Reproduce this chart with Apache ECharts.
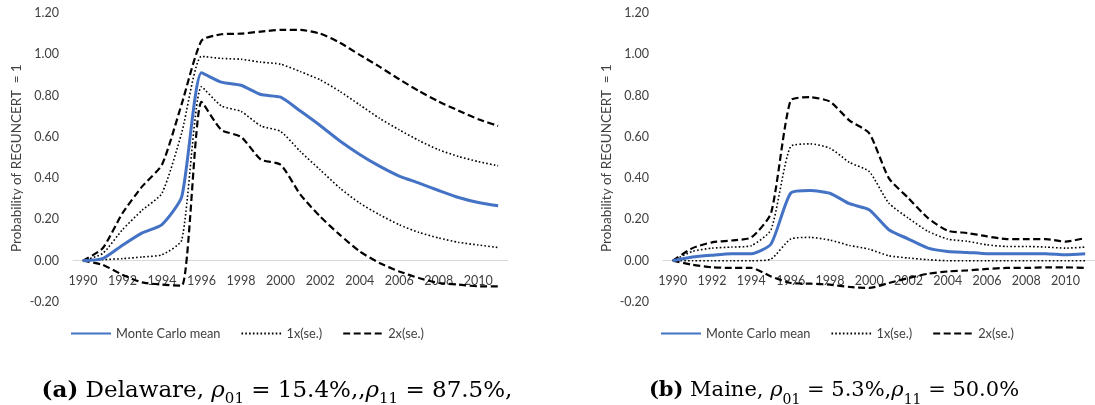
<!DOCTYPE html>
<html>
<head>
<meta charset="utf-8">
<script src="https://cdn.jsdelivr.net/npm/echarts@6/dist/echarts.min.js"></script>
<style>
html,body{margin:0;padding:0;background:#fff;}
#chart{width:1095px;height:405px;}
</style>
</head>
<body>
<div id="chart"></div>
<script>
// ---- data ----
const years = ['1990','1991','1992','1993','1994','1995','1996','1997','1998','1999','2000','2001','2002','2003','2004','2005','2006','2007','2008','2009','2010','2011'];
const yTicks = { min: -0.2, max: 1.2, interval: 0.2 };

// Delaware
const DE_mean = [0, 0.01, 0.075, 0.135, 0.175, 0.31, 0.91, 0.865, 0.85, 0.805, 0.792, 0.725, 0.655, 0.58, 0.515, 0.458, 0.41, 0.376, 0.34, 0.306, 0.282, 0.266];
const DE_up1  = [0, 0.035, 0.15, 0.245, 0.327, 0.62, 0.99, 0.98, 0.976, 0.962, 0.952, 0.916, 0.876, 0.82, 0.755, 0.69, 0.634, 0.582, 0.537, 0.505, 0.48, 0.46];
const DE_lo1  = [0, 0.005, 0.01, 0.018, 0.029, 0.10, 0.843, 0.75, 0.723, 0.653, 0.626, 0.529, 0.44, 0.352, 0.279, 0.223, 0.174, 0.137, 0.11, 0.089, 0.076, 0.064];
const DE_up2  = [0, 0.06, 0.23, 0.36, 0.465, 0.76, 1.066, 1.097, 1.10, 1.11, 1.118, 1.118, 1.10, 1.056, 0.997, 0.94, 0.879, 0.822, 0.771, 0.727, 0.685, 0.653];
const DE_lo2  = [0, -0.02, -0.068, -0.105, -0.116, -0.121, 0.77, 0.634, 0.60, 0.49, 0.465, 0.32, 0.214, 0.125, 0.045, -0.011, -0.052, -0.084, -0.108, -0.116, -0.124, -0.124];

// Maine
const ME_mean = [0, 0.018, 0.027, 0.034, 0.034, 0.081, 0.327, 0.34, 0.327, 0.276, 0.247, 0.15, 0.105, 0.061, 0.045, 0.04, 0.034, 0.034, 0.034, 0.034, 0.029, 0.034];
const ME_up1  = [0, 0.045, 0.061, 0.066, 0.073, 0.15, 0.553, 0.566, 0.545, 0.476, 0.432, 0.279, 0.206, 0.142, 0.105, 0.094, 0.077, 0.069, 0.069, 0.066, 0.061, 0.066];
const ME_lo1  = [0, 0, 0, 0, 0, 0.008, 0.105, 0.113, 0.10, 0.074, 0.056, 0.024, 0.013, 0.005, 0, 0, 0, 0, 0, 0, 0, 0];
const ME_up2  = [0, 0.061, 0.089, 0.098, 0.113, 0.23, 0.776, 0.792, 0.771, 0.679, 0.618, 0.40, 0.303, 0.206, 0.145, 0.134, 0.118, 0.105, 0.105, 0.105, 0.092, 0.11];
const ME_lo2  = [0, -0.02, -0.032, -0.035, -0.035, -0.076, -0.108, -0.111, -0.116, -0.127, -0.132, -0.108, -0.084, -0.063, -0.052, -0.047, -0.04, -0.035, -0.035, -0.032, -0.032, -0.035];

const legendNames = ['Monte Carlo mean', '1x(se.)', '2x(se.)'];
const yTitle = 'Probability of REGUNCERT  = 1';
const captionA = '{b|(a)} Delaware, {i|ρ}{s|01} = 15.4%,,{i|ρ}{s|11} = 87.5%,';
const captionB = '{b|(b)} Maine, {i|ρ}{s|01} = 5.3%,{i|ρ}{s|11} = 50.0%';

// ---- styling ----
const FONT = 'Lato';
const TXT = '#404040';
const BLUE = '#4472C4';
const SERIF = 'DejaVu Serif';

function xAx(gi) {
  return {
    type: 'category', gridIndex: gi, data: years, boundaryGap: true,
    axisLine: { onZero: true, lineStyle: { color: '#d9d9d9', width: 1 } },
    axisTick: { show: false },
    axisLabel: { interval: 1, color: TXT, fontFamily: FONT, fontSize: 12.5, margin: -28 }
  };
}
function yAx(gi) {
  return {
    type: 'value', gridIndex: gi, min: yTicks.min, max: yTicks.max, interval: yTicks.interval,
    axisLine: { show: false }, axisTick: { show: false }, splitLine: { show: false },
    axisLabel: { color: TXT, fontFamily: FONT, fontSize: 12.5, margin: 14,
      formatter: v => v.toFixed(2) }
  };
}
function ser(name, data, gi, kind) {
  const base = { name, type: 'line', data, xAxisIndex: gi, yAxisIndex: gi,
    symbol: 'none', showSymbol: false, smooth: 0.2, animation: false };
  if (kind === 'mean') base.lineStyle = { color: BLUE, width: 3 };
  if (kind === 'dot') base.lineStyle = { color: '#000', width: 1.6, type: [1.6, 2.2] };
  if (kind === 'dash') base.lineStyle = { color: '#000', width: 2.2, type: [7, 3.5] };
  base.itemStyle = { color: base.lineStyle.color };
  base.z = kind === 'mean' ? 3 : 2;
  return base;
}

const legendCommon = {
  data: legendNames, top: 327, padding: 0, itemWidth: 40, itemHeight: 12, itemGap: 20,
  itemStyle: { opacity: 0 },
  textStyle: { color: TXT, fontFamily: FONT, fontSize: 12.8 },
  selectedMode: false
};

function captionRich(size) {
  const sub = Math.round(size * 0.67);
  return {
    b: { fontFamily: SERIF, fontWeight: 'bold', fontSize: size, lineHeight: 32, fill: '#000' },
    i: { fontFamily: SERIF, fontStyle: 'italic', fontSize: size, lineHeight: 32, fill: '#000' },
    s: { fontFamily: SERIF, fontSize: sub, lineHeight: sub, verticalAlign: 'bottom', fill: '#000' }
  };
}

const option = {
  backgroundColor: '#fff',
  animation: false,
  grid: [
    { left: 73, top: 13, width: 435, height: 289 },
    { left: 663, top: 13, width: 435, height: 289 }
  ],
  xAxis: [xAx(0), xAx(1)],
  yAxis: [yAx(0), yAx(1)],
  legend: [
    Object.assign({ left: 70 }, legendCommon),
    Object.assign({ left: 660 }, legendCommon)
  ],
  series: [
    ser('2x(se.)', DE_up2, 0, 'dash'),
    ser('2x(se.)', DE_lo2, 0, 'dash'),
    ser('1x(se.)', DE_up1, 0, 'dot'),
    ser('1x(se.)', DE_lo1, 0, 'dot'),
    ser('Monte Carlo mean', DE_mean, 0, 'mean'),
    ser('2x(se.)', ME_up2, 1, 'dash'),
    ser('2x(se.)', ME_lo2, 1, 'dash'),
    ser('1x(se.)', ME_up1, 1, 'dot'),
    ser('1x(se.)', ME_lo1, 1, 'dot'),
    ser('Monte Carlo mean', ME_mean, 1, 'mean')
  ],
  graphic: [
    { type: 'text', x: 17, y: 158, rotation: Math.PI / 2,
      style: { text: yTitle, fill: TXT, font: '13.5px Lato', textAlign: 'center', textVerticalAlign: 'middle' } },
    { type: 'text', x: 607, y: 158, rotation: Math.PI / 2,
      style: { text: yTitle, fill: TXT, font: '13.5px Lato', textAlign: 'center', textVerticalAlign: 'middle' } },
    { type: 'text', x: 277, y: 391,
      style: { text: captionA, rich: captionRich(23), fontFamily: SERIF, fontSize: 23, lineHeight: 32, fill: '#000', textAlign: 'center', textVerticalAlign: 'middle' } },
    { type: 'text', x: 834, y: 391,
      style: { text: captionB, rich: captionRich(21), fontFamily: SERIF, fontSize: 21, lineHeight: 32, fill: '#000', textAlign: 'center', textVerticalAlign: 'middle' } }
  ]
};

const chart = echarts.init(document.getElementById('chart'), null, { renderer: 'canvas' });
chart.setOption(option);
</script>
</body>
</html>
